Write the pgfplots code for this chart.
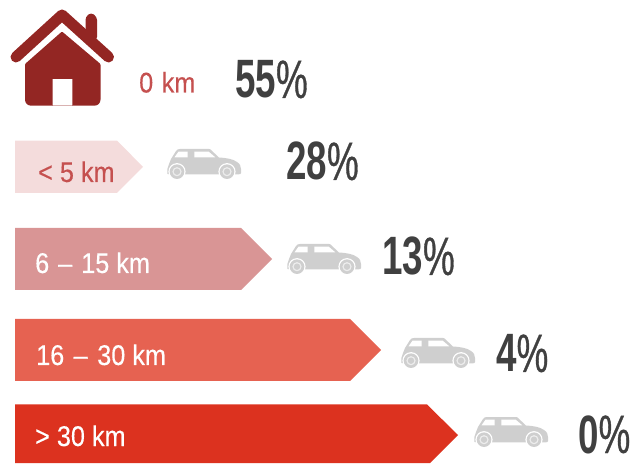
\documentclass[border=0pt]{standalone}
\usepackage{pgfplots}
\pgfplotsset{compat=1.18}
\usepackage{fontspec}
\setmainfont{Liberation Sans}
\newfontfamily\lab[FakeStretch=0.885,FakeBold=0.25]{Liberation Sans}
\newfontfamily\pctb[FakeStretch=0.68]{Liberation Sans Bold}
\newfontfamily\pctr[FakeStretch=0.66,FakeBold=0.6]{Liberation Sans}
\definecolor{b1}{HTML}{F4DCDC}
\definecolor{b2}{HTML}{D99595}
\definecolor{b3}{HTML}{E66251}
\definecolor{b4}{HTML}{DC321F}
\definecolor{labred}{HTML}{C5504F}
\definecolor{cargray}{HTML}{CFCFCF}
\definecolor{wheelring}{HTML}{EDEDED}
\definecolor{pct}{HTML}{404040}
\definecolor{house}{HTML}{932623}
\newcommand\labtxt[1]{\fontsize{28.5}{28.5}\selectfont\lab #1}
\newcommand\pcttxt[1]{\color{pct}\fontsize{54}{54}\selectfont{\pctb #1}{\pctr\%}}
\newcommand\car[2]{%
\begin{scope}[shift={(#1pt,#2pt)},x=1pt,y=1pt]
\fill[cargray] (0.5,5) .. controls (0,9) and (0.5,12) .. (2,15) -- (4,20) -- (9,28)
 .. controls (10,29.5) and (11,30) .. (13,30) -- (42,30) -- (43.5,29.5) -- (52,21.5)
 .. controls (60,21) and (66,20) .. (70,17) .. controls (73,15) and (74,13) .. (74,10)
 -- (74,6) .. controls (74,5) and (73,4.7) .. (72,4.7) -- (2,4.7) -- cycle;
\fill[white] (7.5,21.7) -- (11.5,27.3) -- (20.7,27.3) -- (20.7,21.7) -- cycle;
\fill[white] (27.3,27.3) -- (41.7,27.3) -- (48.3,21.7) -- (27.3,21.7) -- cycle;
\foreach \cx in {10,60}{
\fill[white] (\cx,7.3) circle (8.6);
\fill[cargray] (\cx,7.3) circle (7.3);
\fill[wheelring] (\cx,7.3) circle (4.6);
\fill[cargray] (\cx,7.3) circle (3.2);
}
\end{scope}}
\begin{document}
\begin{tikzpicture}
\path[use as bounding box] (0,0) rectangle (634pt,463pt);
\begin{axis}[at={(0,0)},anchor=south west,x=1pt,y=1pt,xmin=0,xmax=634,ymin=0,ymax=463,hide axis,clip=true]
\addplot[fill=b1,draw=none] coordinates {(15,270) (117,270) (143,296.2) (117,322.3) (15,322.3)} -- cycle;
\addplot[fill=b2,draw=none] coordinates {(15,173) (241,173) (272,204) (241,235) (15,235)} -- cycle;
\addplot[fill=b3,draw=none] coordinates {(15,82) (350,82) (381,113) (350,144) (15,144)} -- cycle;
\addplot[fill=b4,draw=none] coordinates {(15,0) (430,0) (458,28) (427,58.5) (15,58.5)} -- cycle;
\node[anchor=base west,inner sep=0,text=labred] at (axis cs:139,370.5) {\labtxt{0\hspace{1.5pt} km}};
\node[anchor=base west,inner sep=0,text=labred] at (axis cs:38,281) {\labtxt{< 5 km}};
\node[anchor=base west,inner sep=0,text=white] at (axis cs:35,190) {\labtxt{6\hspace{2pt} –\hspace{2pt} 15 km}};
\node[anchor=base west,inner sep=0,text=white] at (axis cs:36,98) {\labtxt{16\hspace{2.5pt} –\hspace{2.5pt} 30 km}};
\node[anchor=base west,inner sep=0,text=white] at (axis cs:35,17) {\labtxt{> 30 km}};
\node[anchor=base west,inner sep=0] at (axis cs:235,365) {\pcttxt{55}};
\node[anchor=base west,inner sep=0] at (axis cs:286,283) {\pcttxt{28}};
\node[anchor=base west,inner sep=0] at (axis cs:382,188) {\pcttxt{13}};
\node[anchor=base west,inner sep=0] at (axis cs:496,91) {\pcttxt{4}};
\node[anchor=base west,inner sep=0] at (axis cs:578,10) {\pcttxt{0}};
\end{axis}
\car{167}{284}
\car{287}{189}
\car{401}{95}
\car{474}{16}
% house (pixel coordinates, y flipped)
\begin{scope}[x=1pt,y=-1pt,yshift=463pt]
\fill[house,rounded corners=3pt] (85.5,40) -- (85.5,17) -- (91,12.5) -- (97,17) -- (97,40) -- cycle;
\draw[house,line width=11pt,line cap=round,line join=round] (16,57) -- (62,15) -- (108.5,57);
\fill[house,even odd rule] [rounded corners=1pt] (62,31.5) -- (25,64) [rounded corners=6pt] -- (25,105.7) -- (100.5,105.7) [rounded corners=1pt] -- (100.5,64) -- cycle
 [sharp corners] (52.7,79) rectangle (72.3,106);
\end{scope}
\end{tikzpicture}
\end{document}
